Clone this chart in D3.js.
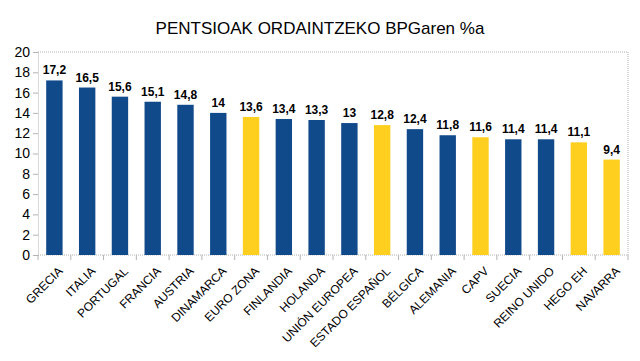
<!DOCTYPE html>
<html>
<head>
<meta charset="utf-8">
<script src="https://cdn.jsdelivr.net/npm/d3@7"></script>
<style>
  body { margin: 0; background: #fff; }
  svg { font-family: "Liberation Sans", Arial, sans-serif; }
</style>
</head>
<body>
<svg class="barchart" width="640" height="361"></svg>
<script>
var categories = ["GRECIA", "ITALIA", "PORTUGAL", "FRANCIA", "AUSTRIA", "DINAMARCA", "EURO ZONA",
  "FINLANDIA", "HOLANDA", "UNIÓN EUROPEA", "ESTADO ESPAÑOL", "BÉLGICA", "ALEMANIA", "CAPV",
  "SUECIA", "REINO UNIDO", "HEGO EH", "NAVARRA"];
var values = [17.2, 16.5, 15.6, 15.1, 14.8, 14, 13.6, 13.4, 13.3, 13, 12.8, 12.4, 11.8, 11.6, 11.4, 11.4, 11.1, 9.4];
var highlighted = ["EURO ZONA", "ESTADO ESPAÑOL", "CAPV", "HEGO EH", "NAVARRA"];
var yTicks = [0, 2, 4, 6, 8, 10, 12, 14, 16, 18, 20];

var svg = d3.select(".barchart"),
  plotLeft = 38, plotRight = 628, plotTop = 52, plotBottom = 255;

var xScale = d3.scaleBand().domain(categories).range([plotLeft, plotRight]).paddingInner(0.5).paddingOuter(0.25),
  yScale = d3.scaleLinear().domain([0, 20]).range([plotBottom, plotTop]);

svg.append("text")
  .attr("x", 320).attr("y", 34)
  .attr("text-anchor", "middle")
  .attr("font-size", 17)
  .text("PENTSIOAK ORDAINTZEKO BPGaren %a");

// plot frame (top and right dotted)
svg.append("path")
  .attr("d", "M" + plotLeft + "," + plotTop + "H" + plotRight + "V" + plotBottom)
  .attr("fill", "none").attr("stroke", "#b3b3b3").attr("stroke-dasharray", "1,1");

// y axis
var yAxis = svg.append("g")
  .attr("transform", "translate(" + plotLeft + ",0)")
  .call(d3.axisLeft(yScale).tickValues(yTicks).tickSize(5).tickSizeOuter(0));
yAxis.select(".domain").attr("stroke", "#b3b3b3").attr("stroke-dasharray", "1,1");
yAxis.selectAll(".tick line").attr("stroke", "#b3b3b3");
yAxis.selectAll("text").attr("font-size", 14).attr("fill", "#000").attr("font-family", "Liberation Sans, Arial, sans-serif").attr("x", -8);

// x axis
var xAxis = svg.append("g").attr("transform", "translate(0," + plotBottom + ")");
xAxis.append("line").attr("x1", plotLeft).attr("x2", plotRight)
  .attr("stroke", "#b3b3b3").attr("stroke-dasharray", "1,1");
xAxis.selectAll(".sep")
  .data(d3.range(categories.length + 1))
  .enter().append("line")
  .attr("x1", function (i) { return plotLeft + i * (plotRight - plotLeft) / categories.length; })
  .attr("x2", function (i) { return plotLeft + i * (plotRight - plotLeft) / categories.length; })
  .attr("y1", 0).attr("y2", 5)
  .attr("stroke", "#b3b3b3");

// bars
svg.selectAll(".bar")
  .data(categories)
  .enter().append("rect")
  .attr("x", function (d) { return xScale(d); })
  .attr("width", xScale.bandwidth())
  .attr("y", function (d, i) { return yScale(values[i]); })
  .attr("height", function (d, i) { return plotBottom - yScale(values[i]); })
  .attr("fill", function (d) { return highlighted.indexOf(d) >= 0 ? "#ffcf1f" : "#114a8b"; });

// value labels
svg.selectAll(".val")
  .data(categories)
  .enter().append("text")
  .attr("x", function (d) { return xScale(d) + xScale.bandwidth() / 2; })
  .attr("y", function (d, i) { return yScale(values[i]) - 6; })
  .attr("text-anchor", "middle")
  .attr("font-size", 12)
  .attr("font-weight", "bold")
  .text(function (d, i) { return String(values[i]).replace(".", ","); });

// category labels
svg.selectAll(".cat")
  .data(categories)
  .enter().append("text")
  .attr("transform", function (d) {
    return "translate(" + (xScale(d) + xScale.bandwidth() / 2 + 3) + "," + (plotBottom + 11) + ") rotate(-45)";
  })
  .attr("text-anchor", "end")
  .attr("font-size", 12)
  .attr("dy", "0.7em")
  .text(function (d) { return d; });
</script>
</body>
</html>
